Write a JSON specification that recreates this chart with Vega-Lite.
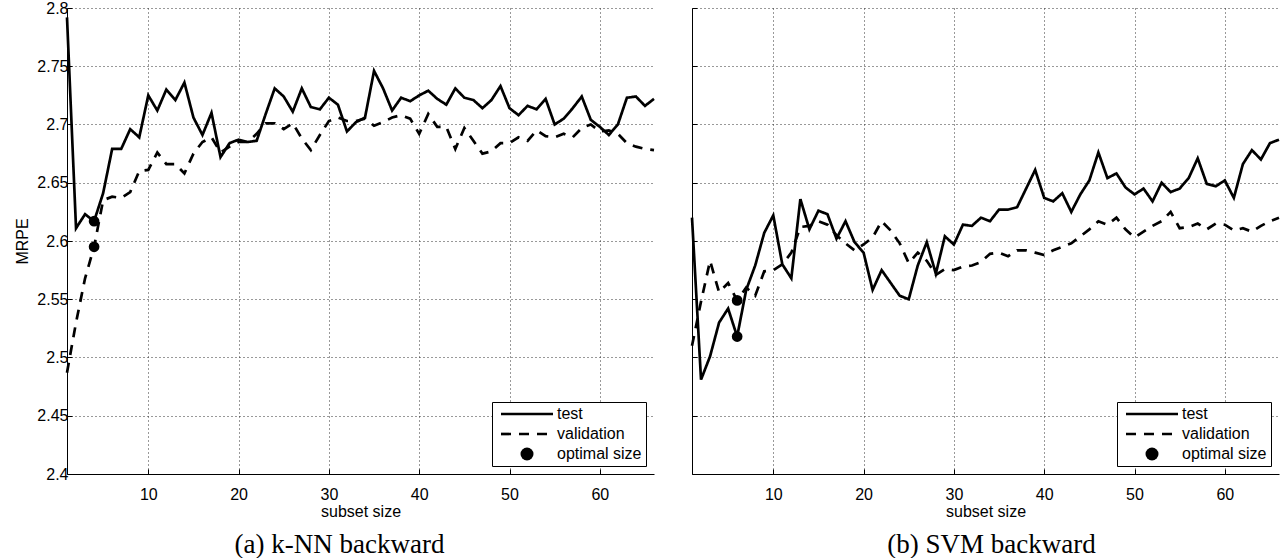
{
  "$schema": "https://vega.github.io/schema/vega-lite/v6.json",
  "background": "white",
  "padding": {"left": 14, "top": 0, "right": 0, "bottom": 0},
  "config": {
    "view": {"stroke": null},
    "font": "Liberation Sans",
    "axis": {
      "domainColor": "#000",
      "domainWidth": 1,
      "tickColor": "#000",
      "tickSize": -5,
      "tickWidth": 1,
      "labelFont": "Liberation Sans",
      "labelFontSize": 16,
      "labelColor": "#000",
      "titleFont": "Liberation Sans",
      "titleFontSize": 16,
      "titleFontWeight": "normal",
      "titleColor": "#000",
      "grid": true,
      "gridColor": "#333",
      "gridDash": [1, 3],
      "gridWidth": 1
    },
    "title": {"font": "Liberation Serif", "fontSize": 27, "fontWeight": "normal", "color": "#000"}
  },
  "datasets": {
    "knn": [
      {"size":1,"series":"test","mrpe":2.792},{"size":2,"series":"test","mrpe":2.611},{"size":3,"series":"test","mrpe":2.623},{"size":4,"series":"test","mrpe":2.617},{"size":5,"series":"test","mrpe":2.641},{"size":6,"series":"test","mrpe":2.679},{"size":7,"series":"test","mrpe":2.679},{"size":8,"series":"test","mrpe":2.696},{"size":9,"series":"test","mrpe":2.689},{"size":10,"series":"test","mrpe":2.725},
      {"size":11,"series":"test","mrpe":2.712},{"size":12,"series":"test","mrpe":2.730},{"size":13,"series":"test","mrpe":2.721},{"size":14,"series":"test","mrpe":2.736},{"size":15,"series":"test","mrpe":2.706},{"size":16,"series":"test","mrpe":2.691},{"size":17,"series":"test","mrpe":2.710},{"size":18,"series":"test","mrpe":2.672},{"size":19,"series":"test","mrpe":2.684},{"size":20,"series":"test","mrpe":2.687},
      {"size":21,"series":"test","mrpe":2.685},{"size":22,"series":"test","mrpe":2.686},{"size":23,"series":"test","mrpe":2.709},{"size":24,"series":"test","mrpe":2.731},{"size":25,"series":"test","mrpe":2.724},{"size":26,"series":"test","mrpe":2.711},{"size":27,"series":"test","mrpe":2.731},{"size":28,"series":"test","mrpe":2.715},{"size":29,"series":"test","mrpe":2.713},{"size":30,"series":"test","mrpe":2.723},
      {"size":31,"series":"test","mrpe":2.717},{"size":32,"series":"test","mrpe":2.694},{"size":33,"series":"test","mrpe":2.702},{"size":34,"series":"test","mrpe":2.706},{"size":35,"series":"test","mrpe":2.746},{"size":36,"series":"test","mrpe":2.731},{"size":37,"series":"test","mrpe":2.712},{"size":38,"series":"test","mrpe":2.723},{"size":39,"series":"test","mrpe":2.720},{"size":40,"series":"test","mrpe":2.725},
      {"size":41,"series":"test","mrpe":2.729},{"size":42,"series":"test","mrpe":2.722},{"size":43,"series":"test","mrpe":2.717},{"size":44,"series":"test","mrpe":2.731},{"size":45,"series":"test","mrpe":2.723},{"size":46,"series":"test","mrpe":2.721},{"size":47,"series":"test","mrpe":2.714},{"size":48,"series":"test","mrpe":2.721},{"size":49,"series":"test","mrpe":2.733},{"size":50,"series":"test","mrpe":2.714},
      {"size":51,"series":"test","mrpe":2.708},{"size":52,"series":"test","mrpe":2.716},{"size":53,"series":"test","mrpe":2.713},{"size":54,"series":"test","mrpe":2.722},{"size":55,"series":"test","mrpe":2.700},{"size":56,"series":"test","mrpe":2.705},{"size":57,"series":"test","mrpe":2.714},{"size":58,"series":"test","mrpe":2.724},{"size":59,"series":"test","mrpe":2.704},{"size":60,"series":"test","mrpe":2.698},
      {"size":61,"series":"test","mrpe":2.691},{"size":62,"series":"test","mrpe":2.700},{"size":63,"series":"test","mrpe":2.723},{"size":64,"series":"test","mrpe":2.724},{"size":65,"series":"test","mrpe":2.716},{"size":66,"series":"test","mrpe":2.722},
      {"size":1,"series":"validation","mrpe":2.487},{"size":2,"series":"validation","mrpe":2.530},{"size":3,"series":"validation","mrpe":2.568},{"size":4,"series":"validation","mrpe":2.595},{"size":5,"series":"validation","mrpe":2.635},{"size":6,"series":"validation","mrpe":2.638},{"size":7,"series":"validation","mrpe":2.637},{"size":8,"series":"validation","mrpe":2.642},{"size":9,"series":"validation","mrpe":2.660},{"size":10,"series":"validation","mrpe":2.661},
      {"size":11,"series":"validation","mrpe":2.676},{"size":12,"series":"validation","mrpe":2.666},{"size":13,"series":"validation","mrpe":2.666},{"size":14,"series":"validation","mrpe":2.658},{"size":15,"series":"validation","mrpe":2.675},{"size":16,"series":"validation","mrpe":2.685},{"size":17,"series":"validation","mrpe":2.689},{"size":18,"series":"validation","mrpe":2.676},{"size":19,"series":"validation","mrpe":2.681},{"size":20,"series":"validation","mrpe":2.685},
      {"size":21,"series":"validation","mrpe":2.685},{"size":22,"series":"validation","mrpe":2.692},{"size":23,"series":"validation","mrpe":2.701},{"size":24,"series":"validation","mrpe":2.701},{"size":25,"series":"validation","mrpe":2.696},{"size":26,"series":"validation","mrpe":2.701},{"size":27,"series":"validation","mrpe":2.688},{"size":28,"series":"validation","mrpe":2.678},{"size":29,"series":"validation","mrpe":2.691},{"size":30,"series":"validation","mrpe":2.703},
      {"size":31,"series":"validation","mrpe":2.706},{"size":32,"series":"validation","mrpe":2.703},{"size":33,"series":"validation","mrpe":2.703},{"size":34,"series":"validation","mrpe":2.705},{"size":35,"series":"validation","mrpe":2.699},{"size":36,"series":"validation","mrpe":2.702},{"size":37,"series":"validation","mrpe":2.706},{"size":38,"series":"validation","mrpe":2.708},{"size":39,"series":"validation","mrpe":2.705},{"size":40,"series":"validation","mrpe":2.692},
      {"size":41,"series":"validation","mrpe":2.709},{"size":42,"series":"validation","mrpe":2.698},{"size":43,"series":"validation","mrpe":2.698},{"size":44,"series":"validation","mrpe":2.679},{"size":45,"series":"validation","mrpe":2.697},{"size":46,"series":"validation","mrpe":2.686},{"size":47,"series":"validation","mrpe":2.675},{"size":48,"series":"validation","mrpe":2.677},{"size":49,"series":"validation","mrpe":2.684},{"size":50,"series":"validation","mrpe":2.684},
      {"size":51,"series":"validation","mrpe":2.689},{"size":52,"series":"validation","mrpe":2.686},{"size":53,"series":"validation","mrpe":2.695},{"size":54,"series":"validation","mrpe":2.690},{"size":55,"series":"validation","mrpe":2.689},{"size":56,"series":"validation","mrpe":2.692},{"size":57,"series":"validation","mrpe":2.689},{"size":58,"series":"validation","mrpe":2.697},{"size":59,"series":"validation","mrpe":2.700},{"size":60,"series":"validation","mrpe":2.694},
      {"size":61,"series":"validation","mrpe":2.695},{"size":62,"series":"validation","mrpe":2.692},{"size":63,"series":"validation","mrpe":2.684},{"size":64,"series":"validation","mrpe":2.681},{"size":65,"series":"validation","mrpe":2.679},{"size":66,"series":"validation","mrpe":2.678}
    ],
    "svm": [
      {"size":1,"series":"test","mrpe":2.620},{"size":2,"series":"test","mrpe":2.481},{"size":3,"series":"test","mrpe":2.501},{"size":4,"series":"test","mrpe":2.530},{"size":5,"series":"test","mrpe":2.542},{"size":6,"series":"test","mrpe":2.518},{"size":7,"series":"test","mrpe":2.558},{"size":8,"series":"test","mrpe":2.579},{"size":9,"series":"test","mrpe":2.607},{"size":10,"series":"test","mrpe":2.622},
      {"size":11,"series":"test","mrpe":2.580},{"size":12,"series":"test","mrpe":2.568},{"size":13,"series":"test","mrpe":2.636},{"size":14,"series":"test","mrpe":2.610},{"size":15,"series":"test","mrpe":2.626},{"size":16,"series":"test","mrpe":2.623},{"size":17,"series":"test","mrpe":2.602},{"size":18,"series":"test","mrpe":2.617},{"size":19,"series":"test","mrpe":2.599},{"size":20,"series":"test","mrpe":2.590},
      {"size":21,"series":"test","mrpe":2.558},{"size":22,"series":"test","mrpe":2.575},{"size":23,"series":"test","mrpe":2.564},{"size":24,"series":"test","mrpe":2.553},{"size":25,"series":"test","mrpe":2.550},{"size":26,"series":"test","mrpe":2.579},{"size":27,"series":"test","mrpe":2.599},{"size":28,"series":"test","mrpe":2.572},{"size":29,"series":"test","mrpe":2.604},{"size":30,"series":"test","mrpe":2.597},
      {"size":31,"series":"test","mrpe":2.614},{"size":32,"series":"test","mrpe":2.613},{"size":33,"series":"test","mrpe":2.620},{"size":34,"series":"test","mrpe":2.617},{"size":35,"series":"test","mrpe":2.627},{"size":36,"series":"test","mrpe":2.627},{"size":37,"series":"test","mrpe":2.629},{"size":38,"series":"test","mrpe":2.645},{"size":39,"series":"test","mrpe":2.661},{"size":40,"series":"test","mrpe":2.637},
      {"size":41,"series":"test","mrpe":2.634},{"size":42,"series":"test","mrpe":2.641},{"size":43,"series":"test","mrpe":2.625},{"size":44,"series":"test","mrpe":2.640},{"size":45,"series":"test","mrpe":2.652},{"size":46,"series":"test","mrpe":2.676},{"size":47,"series":"test","mrpe":2.654},{"size":48,"series":"test","mrpe":2.658},{"size":49,"series":"test","mrpe":2.646},{"size":50,"series":"test","mrpe":2.640},
      {"size":51,"series":"test","mrpe":2.645},{"size":52,"series":"test","mrpe":2.634},{"size":53,"series":"test","mrpe":2.650},{"size":54,"series":"test","mrpe":2.642},{"size":55,"series":"test","mrpe":2.645},{"size":56,"series":"test","mrpe":2.654},{"size":57,"series":"test","mrpe":2.671},{"size":58,"series":"test","mrpe":2.649},{"size":59,"series":"test","mrpe":2.647},{"size":60,"series":"test","mrpe":2.652},
      {"size":61,"series":"test","mrpe":2.637},{"size":62,"series":"test","mrpe":2.666},{"size":63,"series":"test","mrpe":2.678},{"size":64,"series":"test","mrpe":2.670},{"size":65,"series":"test","mrpe":2.684},{"size":66,"series":"test","mrpe":2.687},
      {"size":1,"series":"validation","mrpe":2.510},{"size":2,"series":"validation","mrpe":2.548},{"size":3,"series":"validation","mrpe":2.583},{"size":4,"series":"validation","mrpe":2.556},{"size":5,"series":"validation","mrpe":2.564},{"size":6,"series":"validation","mrpe":2.549},{"size":7,"series":"validation","mrpe":2.560},{"size":8,"series":"validation","mrpe":2.553},{"size":9,"series":"validation","mrpe":2.574},{"size":10,"series":"validation","mrpe":2.575},
      {"size":11,"series":"validation","mrpe":2.580},{"size":12,"series":"validation","mrpe":2.590},{"size":13,"series":"validation","mrpe":2.612},{"size":14,"series":"validation","mrpe":2.613},{"size":15,"series":"validation","mrpe":2.617},{"size":16,"series":"validation","mrpe":2.614},{"size":17,"series":"validation","mrpe":2.605},{"size":18,"series":"validation","mrpe":2.598},{"size":19,"series":"validation","mrpe":2.592},{"size":20,"series":"validation","mrpe":2.597},
      {"size":21,"series":"validation","mrpe":2.603},{"size":22,"series":"validation","mrpe":2.617},{"size":23,"series":"validation","mrpe":2.609},{"size":24,"series":"validation","mrpe":2.598},{"size":25,"series":"validation","mrpe":2.581},{"size":26,"series":"validation","mrpe":2.590},{"size":27,"series":"validation","mrpe":2.583},{"size":28,"series":"validation","mrpe":2.571},{"size":29,"series":"validation","mrpe":2.576},{"size":30,"series":"validation","mrpe":2.575},
      {"size":31,"series":"validation","mrpe":2.578},{"size":32,"series":"validation","mrpe":2.579},{"size":33,"series":"validation","mrpe":2.582},{"size":34,"series":"validation","mrpe":2.589},{"size":35,"series":"validation","mrpe":2.590},{"size":36,"series":"validation","mrpe":2.587},{"size":37,"series":"validation","mrpe":2.592},{"size":38,"series":"validation","mrpe":2.592},{"size":39,"series":"validation","mrpe":2.590},{"size":40,"series":"validation","mrpe":2.588},
      {"size":41,"series":"validation","mrpe":2.592},{"size":42,"series":"validation","mrpe":2.595},{"size":43,"series":"validation","mrpe":2.598},{"size":44,"series":"validation","mrpe":2.604},{"size":45,"series":"validation","mrpe":2.610},{"size":46,"series":"validation","mrpe":2.617},{"size":47,"series":"validation","mrpe":2.614},{"size":48,"series":"validation","mrpe":2.620},{"size":49,"series":"validation","mrpe":2.610},{"size":50,"series":"validation","mrpe":2.603},
      {"size":51,"series":"validation","mrpe":2.608},{"size":52,"series":"validation","mrpe":2.613},{"size":53,"series":"validation","mrpe":2.617},{"size":54,"series":"validation","mrpe":2.625},{"size":55,"series":"validation","mrpe":2.611},{"size":56,"series":"validation","mrpe":2.612},{"size":57,"series":"validation","mrpe":2.615},{"size":58,"series":"validation","mrpe":2.610},{"size":59,"series":"validation","mrpe":2.615},{"size":60,"series":"validation","mrpe":2.614},
      {"size":61,"series":"validation","mrpe":2.609},{"size":62,"series":"validation","mrpe":2.611},{"size":63,"series":"validation","mrpe":2.608},{"size":64,"series":"validation","mrpe":2.613},{"size":65,"series":"validation","mrpe":2.617},{"size":66,"series":"validation","mrpe":2.620}
    ]
  },
  "resolve": {"scale": {"strokeDash": "independent"}, "legend": {"strokeDash": "independent"}},
  "spacing": 1,
  "hconcat": [
    {
      "width": 587,
      "height": 466,
      "title": {"text": "(a) k-NN backward", "orient": "bottom", "dx": -21, "offset": 13},
      "layer": [
        {
          "data": {"name": "knn"},
          "mark": {"type": "line", "strokeWidth": 2.7, "color": "black"},
          "encoding": {
            "x": {"field": "size", "type": "quantitative", "scale": {"domain": [1, 66], "nice": false, "zero": false},
                  "axis": {"title": "subset size", "values": [10, 20, 30, 40, 50, 60], "labelPadding": 17, "titlePadding": 1}},
            "y": {"field": "mrpe", "type": "quantitative", "scale": {"domain": [2.4, 2.8], "nice": false, "zero": false},
                  "axis": {"title": "MRPE", "values": [2.4, 2.45, 2.5, 2.55, 2.6, 2.65, 2.7, 2.75, 2.8], "format": ".2~f", "labelPadding": 4, "titlePadding": 6}},
            "strokeDash": {"field": "series", "type": "nominal",
              "scale": {"domain": ["test", "validation", "optimal size"], "range": [[1, 0], [10, 8], [1, 0]]},
              "legend": {
                "title": null, "orient": "bottom-right", "offset": 8,
                "strokeColor": "black", "fillColor": "white", "padding": 4, "rowPadding": 4,
                "labelFont": "Liberation Sans", "labelFontSize": 16, "labelColor": "black",
                "symbolSize": 169, "symbolStrokeWidth": 2.7, "symbolStrokeColor": "black",
                "symbolOffset": 23, "labelOffset": 22,
                "encode": {"symbols": {"update": {
                  "shape": {"signal": "datum.value === 'optimal size' ? 'circle' : 'M-4,0H4'"},
                  "fill": {"signal": "datum.value === 'optimal size' ? 'black' : 'transparent'"},
                  "stroke": {"value": "black"},
                  "strokeWidth": {"signal": "datum.value === 'optimal size' ? 0 : 2.7"}
                }}}
              }}
          }
        },
        {
          "data": {"name": "knn"},
          "transform": [{"filter": "datum.size === 4"}],
          "mark": {"type": "circle", "size": 115, "color": "black", "opacity": 1},
          "encoding": {
            "x": {"field": "size", "type": "quantitative"},
            "y": {"field": "mrpe", "type": "quantitative"}
          }
        }
      ]
    },
    {
      "width": 587,
      "height": 466,
      "title": {"text": "(b) SVM backward", "orient": "bottom", "dx": 6, "offset": 13},
      "layer": [
        {
          "data": {"name": "svm"},
          "mark": {"type": "line", "strokeWidth": 2.7, "color": "black"},
          "encoding": {
            "x": {"field": "size", "type": "quantitative", "scale": {"domain": [1, 66], "nice": false, "zero": false},
                  "axis": {"title": "subset size", "values": [10, 20, 30, 40, 50, 60], "labelPadding": 17, "titlePadding": 1}},
            "y": {"field": "mrpe", "type": "quantitative", "scale": {"domain": [2.4, 2.8], "nice": false, "zero": false},
                  "axis": {"title": null, "values": [2.4, 2.45, 2.5, 2.55, 2.6, 2.65, 2.7, 2.75, 2.8], "format": ".2~f", "labelPadding": 4, "labelOpacity": 0}},
            "strokeDash": {"field": "series", "type": "nominal",
              "scale": {"domain": ["test", "validation", "optimal size"], "range": [[1, 0], [10, 8], [1, 0]]},
              "legend": {
                "title": null, "orient": "bottom-right", "offset": 8,
                "strokeColor": "black", "fillColor": "white", "padding": 4, "rowPadding": 4,
                "labelFont": "Liberation Sans", "labelFontSize": 16, "labelColor": "black",
                "symbolSize": 169, "symbolStrokeWidth": 2.7, "symbolStrokeColor": "black",
                "symbolOffset": 23, "labelOffset": 22,
                "encode": {"symbols": {"update": {
                  "shape": {"signal": "datum.value === 'optimal size' ? 'circle' : 'M-4,0H4'"},
                  "fill": {"signal": "datum.value === 'optimal size' ? 'black' : 'transparent'"},
                  "stroke": {"value": "black"},
                  "strokeWidth": {"signal": "datum.value === 'optimal size' ? 0 : 2.7"}
                }}}
              }}
          }
        },
        {
          "data": {"name": "svm"},
          "transform": [{"filter": "datum.size === 6"}],
          "mark": {"type": "circle", "size": 115, "color": "black", "opacity": 1},
          "encoding": {
            "x": {"field": "size", "type": "quantitative"},
            "y": {"field": "mrpe", "type": "quantitative"}
          }
        }
      ]
    }
  ]
}
